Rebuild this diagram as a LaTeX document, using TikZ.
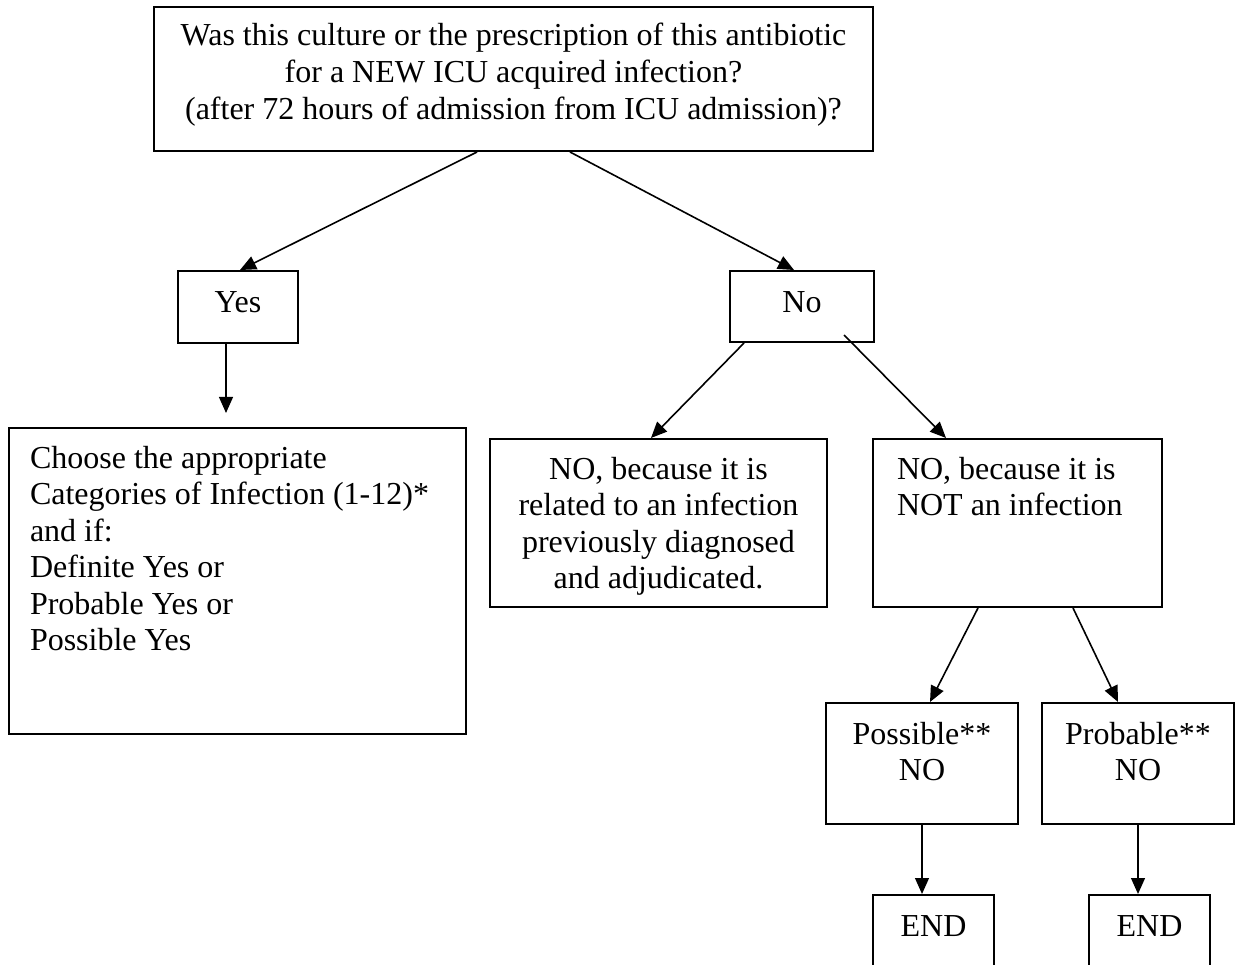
\documentclass[tikz,border=0pt]{standalone}
\usepackage{fontspec}
\setmainfont{Liberation Serif}
\usetikzlibrary{arrows.meta, positioning}

% one pixel of the layout grid
\newdimen\pxu
\pxu=0.375pt

\tikzset{
    box/.style={draw, line width=0.75pt, inner sep=0pt, anchor=north, align=flush center},
    arr/.style={line width=0.6pt, -{Triangle[length=6pt, width=5.2pt]}}
}

\begin{document}
\begin{tikzpicture}[x=0.375pt, y=-0.375pt, font=\fontsize{12pt}{13.7pt}\selectfont]
    \useasboundingbox (0,0) rectangle (1240,965);

    % Question at the top
    \node[box, text width=719\pxu, text height=39\pxu, text depth=105\pxu] (q) at (513.5,6)
        {Was this culture or the prescription of this antibiotic\\
         for a NEW ICU acquired infection?\\
         (after 72 hours of admission from ICU admission)?};

    % Yes / No answers
    \node[box, text width=120\pxu, text height=42\pxu, text depth=30\pxu] (yes) at (238,270) {Yes};
    \node[box, text width=144\pxu, text height=42\pxu, text depth=29\pxu] (no) at (802,270) {No};

    % Yes branch
    \node[box, align=flush left, text width=415\pxu, inner xsep=21\pxu, text height=40\pxu, text depth=266\pxu] (choose) at (237.5,427)
        {Choose the appropriate\\
         Categories of Infection (1-12)*\\
         and if:\\
         Definite Yes or\\
         Probable Yes or\\
         Possible Yes};

    % No branch
    \node[box, text width=337\pxu, text height=40\pxu, text depth=128\pxu] (related) at (658.5,438)
        {NO, because it is\\
         related to an infection\\
         previously diagnosed\\
         and adjudicated.};
    \node[box, align=flush left, text width=241\pxu, inner xsep=24\pxu, text height=40\pxu, text depth=128\pxu] (notinf) at (1017.5,438)
        {NO, because it is\\
         NOT an infection};

    \node[box, text width=192\pxu, text height=41\pxu, text depth=80\pxu] (poss) at (922,702) {Possible**\\ NO};
    \node[box, text width=192\pxu, text height=41\pxu, text depth=80\pxu] (prob) at (1138,702) {Probable**\\ NO};

    % End boxes (run off the bottom edge)
    \foreach \name/\cx in {endposs/933.5, endprob/1149.5} {
        \node[box, text width=121\pxu, text height=41\pxu, text depth=40\pxu] (\name) at (\cx,894) {END};
    }

    % Arrows
    \draw[arr] ([xshift=-36.5\pxu]q.south) -- ([xshift=2\pxu]yes.north);
    \draw[arr] ([xshift=56.5\pxu]q.south) -- ([xshift=-8\pxu]no.north);
    \draw[arr, shorten >=14\pxu] ([xshift=-12\pxu]yes.south) -- ([xshift=-12\pxu]yes.south |- choose.north);
    \draw[arr] ([xshift=-58\pxu]no.south) -- ([xshift=-7.5\pxu]related.north);
    \draw[arr] ([xshift=-31\pxu, yshift=8\pxu]no.south east) -- ([xshift=-71.5\pxu]notinf.north);
    \draw[arr] ([xshift=-39.5\pxu]notinf.south) -- ([xshift=8\pxu]poss.north);
    \draw[arr] ([xshift=55.5\pxu]notinf.south) -- ([xshift=-20\pxu]prob.north);
    \draw[arr] (poss.south) -- (poss.south |- endposs.north);
    \draw[arr] (prob.south) -- (prob.south |- endprob.north);
\end{tikzpicture}
\end{document}
